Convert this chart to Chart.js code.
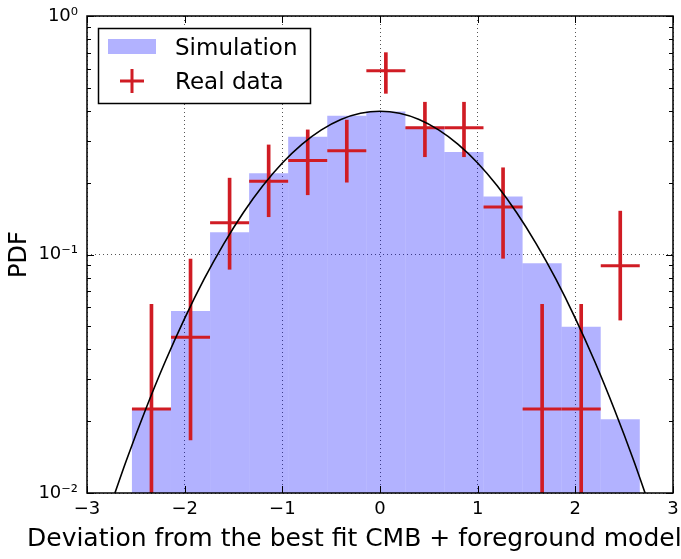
<!DOCTYPE html>
<html>
<head>
<meta charset="utf-8">
<script src="https://cdn.jsdelivr.net/npm/chart.js@4.4.0/dist/chart.umd.min.js"></script>
<style>
  html, body { margin: 0; padding: 0; background: #fff; }
  #wrap { width: 681px; height: 559px; }
</style>
</head>
<body>
<div id="wrap"><canvas id="pdfChart" width="681" height="559"></canvas></div>
<script>
// centres of the histogram bins (real data sit at the same places)
const binCenters = [-2.34, -1.94, -1.54, -1.14, -0.74, -0.34, 0.06, 0.46, 0.86, 1.26, 1.66, 2.06, 2.46];
// simulated PDF per bin
const simValues = [0.0227, 0.058, 0.124, 0.219, 0.312, 0.382, 0.398, 0.343, 0.269, 0.175, 0.0918, 0.0498, 0.0204];
// real data with lower / upper ends of the error bars
const realValues = [0.0225, 0.045, 0.136, 0.203, 0.248, 0.272, 0.590, 0.340, 0.340, 0.158, 0.0225, 0.0225, 0.0897];
const realLow = [0.001, 0.0167, 0.0867, 0.144, 0.178, 0.201, 0.474, 0.257, 0.257, 0.0964, 0.001, 0.001, 0.0531];
const realHigh = [0.0618, 0.0957, 0.209, 0.288, 0.333, 0.366, 0.702, 0.435, 0.435, 0.231, 0.0618, 0.0618, 0.152];
// black model curve
const curveX = [-2.8, -2.6, -2.4, -2.2, -2.0, -1.8, -1.6, -1.4, -1.2, -1.0, -0.8, -0.6, -0.4, -0.2, 0,
  0.2, 0.4, 0.6, 0.8, 1.0, 1.2, 1.4, 1.6, 1.8, 2.0, 2.2, 2.4, 2.6, 2.8];
const curveY = [0.0079, 0.0136, 0.0224, 0.0355, 0.0540, 0.0790, 0.1109, 0.1497, 0.1942, 0.2420, 0.2897, 0.3332, 0.3683, 0.3910, 0.3989,
  0.3910, 0.3683, 0.3332, 0.2897, 0.2420, 0.1942, 0.1497, 0.1109, 0.0790, 0.0540, 0.0355, 0.0224, 0.0136, 0.0079];
// axis ticks
const xTicks = [-3, -2, -1, 0, 1, 2, 3];
const yMajorTicks = [0.01, 0.1, 1];
const yTickLabels = ['10\u207B\u00B2', '10\u207B\u00B9', '10\u2070'];
const yMinorTicks = [0.02, 0.03, 0.04, 0.05, 0.06, 0.07, 0.08, 0.09, 0.2, 0.3, 0.4, 0.5, 0.6, 0.7, 0.8, 0.9];

const FONT = 'DejaVu Sans';
const RED = '#d01c24';
const BLUE = 'rgba(0, 0, 255, 0.3)';

// frame and inward tick marks (matplotlib style)
const frameTicks = {
  id: 'frameTicks',
  afterDatasetsDraw(chart) {
    const { ctx, chartArea: a, scales: { x, y } } = chart;
    const seg = (x1, y1, x2, y2) => { ctx.beginPath(); ctx.moveTo(x1, y1); ctx.lineTo(x2, y2); ctx.stroke(); };
    ctx.save();
    ctx.strokeStyle = '#000';
    ctx.lineWidth = 1;
    xTicks.forEach(v => {
      const px = Math.round(x.getPixelForValue(v)) + 0.5;
      seg(px, a.bottom, px, a.bottom - 7);
      seg(px, a.top, px, a.top + 7);
    });
    yMajorTicks.forEach(v => {
      const py = Math.round(y.getPixelForValue(v)) + 0.5;
      seg(a.left, py, a.left + 7, py);
      seg(a.right, py, a.right - 7, py);
    });
    yMinorTicks.forEach(v => {
      const py = Math.round(y.getPixelForValue(v)) + 0.5;
      seg(a.left, py, a.left + 4, py);
      seg(a.right, py, a.right - 4, py);
    });
    ctx.lineWidth = 1.5;
    ctx.strokeRect(a.left, a.top, a.right - a.left, a.bottom - a.top);
    ctx.restore();
  }
};

// legend box in the upper left corner + x axis label
const boxLegend = {
  id: 'boxLegend',
  afterDraw(chart) {
    const { ctx } = chart;
    ctx.save();
    ctx.fillStyle = '#fff';
    ctx.fillRect(98, 28, 212, 75);
    ctx.strokeStyle = '#000';
    ctx.lineWidth = 1.5;
    ctx.strokeRect(98.5, 28.5, 212, 75);
    ctx.fillStyle = BLUE;
    ctx.fillRect(108, 39, 48, 15);
    ctx.strokeStyle = RED;
    ctx.lineWidth = 3;
    ctx.beginPath();
    ctx.moveTo(120, 81); ctx.lineTo(144, 81);
    ctx.moveTo(132, 69); ctx.lineTo(132, 93);
    ctx.stroke();
    ctx.fillStyle = '#000';
    ctx.font = '23px "' + FONT + '"';
    ctx.textAlign = 'left';
    ctx.textBaseline = 'alphabetic';
    ctx.fillText('Simulation', 175, 55);
    ctx.fillText('Real data', 175, 89);
    ctx.font = '25px "' + FONT + '"';
    ctx.fillText('Deviation from the best fit CMB + foreground model', 27, 546);
    ctx.restore();
  }
};

const histData = binCenters.map((x, i) => ({ x, y: simValues[i] }));
const errData = binCenters.map((x, i) => ({ x, y: [realLow[i], realHigh[i]] }));
const pointData = binCenters.map((x, i) => ({ x, y: realValues[i] }));
const curveData = curveX.map((x, i) => ({ x, y: curveY[i] }));

new Chart(document.getElementById('pdfChart'), {
  type: 'bar',
  data: {
    datasets: [
      {
        type: 'line',
        label: 'model',
        data: curveData,
        borderColor: '#000',
        borderWidth: 1.6,
        pointRadius: 0,
        cubicInterpolationMode: 'monotone',
        fill: false,
        clip: 0,
        order: 0
      },
      {
        type: 'line',
        label: 'Real data',
        data: pointData,
        showLine: false,
        pointStyle: 'line',
        pointRadius: 19.5,
        pointBorderWidth: 3,
        borderColor: RED,
        backgroundColor: RED,
        clip: 0,
        order: 1
      },
      {
        type: 'bar',
        label: 'Real data errors',
        data: errData,
        backgroundColor: RED,
        barThickness: 3,
        grouped: false,
        clip: 0,
        order: 1
      },
      {
        type: 'bar',
        label: 'Simulation',
        data: histData,
        backgroundColor: BLUE,
        borderWidth: 0,
        inflateAmount: 0,
        barPercentage: 1,
        categoryPercentage: 1,
        grouped: false,
        order: 2
      }
    ]
  },
  options: {
    responsive: false,
    animation: false,
    events: [],
    layout: { autoPadding: false, padding: { top: 16, right: 8, left: 0, bottom: 0 } },
    plugins: {
      legend: { display: false },
      tooltip: { enabled: false }
    },
    scales: {
      x: {
        type: 'linear',
        min: -3,
        max: 3,
        offset: false,
        afterBuildTicks: s => { s.ticks = xTicks.map(v => ({ value: v })); },
        afterFit: s => { s.height = 66; s.paddingLeft = 0; s.paddingRight = 0; },
        grid: { color: '#555', lineWidth: 1, drawTicks: false, offset: false },
        border: { display: false, dash: [1, 3] },
        ticks: {
          padding: 6,
          color: '#000',
          autoSkip: false,
          maxRotation: 0,
          font: { family: FONT, size: 18 },
          callback: v => String(v).replace('-', '\u2212')
        }
      },
      y: {
        type: 'logarithmic',
        min: 0.01,
        max: 1,
        afterBuildTicks: s => { s.ticks = yMajorTicks.map(v => ({ value: v })); },
        afterFit: s => { s.width = 87; s.paddingTop = 0; s.paddingBottom = 0; },
        grid: { color: '#555', lineWidth: 1, drawTicks: false },
        border: { display: false, dash: [1, 3] },
        ticks: {
          padding: 9,
          color: '#000',
          autoSkip: false,
          font: { family: FONT, size: 18 },
          callback: v => yTickLabels[yMajorTicks.indexOf(v)]
        },
        title: {
          display: true,
          text: 'PDF',
          color: '#000',
          font: { family: FONT, size: 24 },
          padding: { top: 5, bottom: 0 }
        }
      }
    }
  },
  plugins: [frameTicks, boxLegend]
});
</script>
</body>
</html>
